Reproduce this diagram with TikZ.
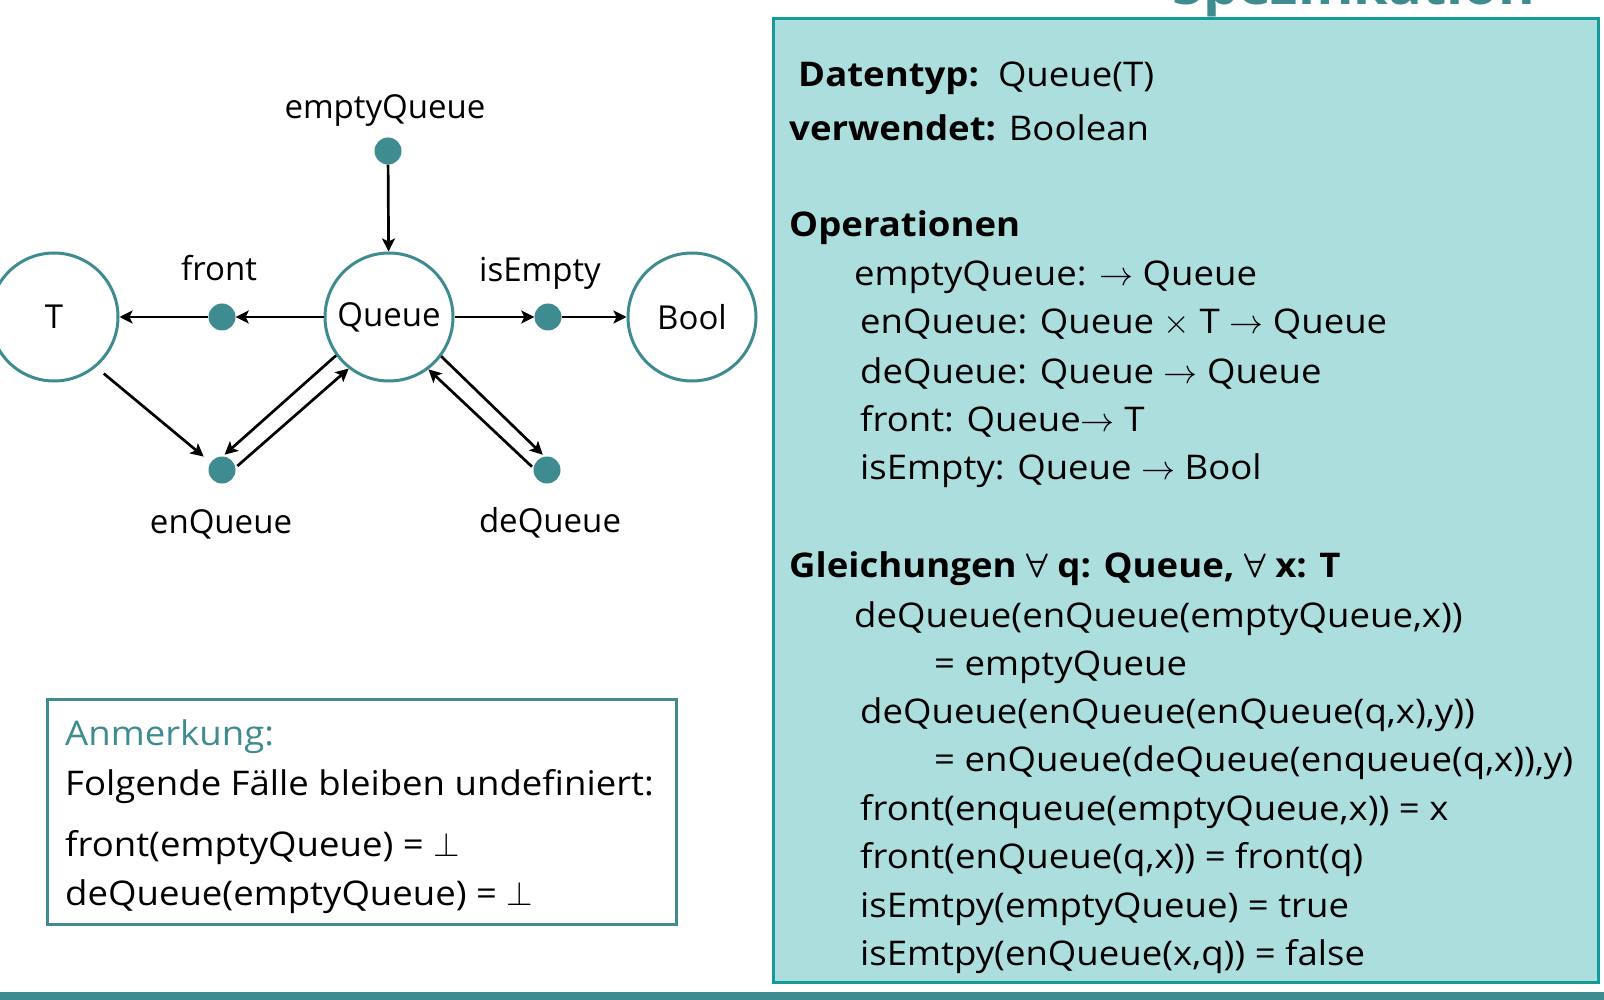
\documentclass[tikz,border=0pt]{standalone}
\usepackage{fontspec}
\setmainfont[FakeStretch=1.075]{Open Sans}
\newfontfamily\lblfont{Open Sans}
\DeclareFontShape{OMS}{cmsy}{m}{n}{<->cmsy10}{}
\DeclareFontShape{OMS}{cmsy}{b}{n}{<->cmbsy10}{}
\usetikzlibrary{arrows.meta}
\definecolor{tealA}{HTML}{3E8C90}
\definecolor{boxfill}{HTML}{ADDEDE}
\definecolor{boxline}{HTML}{139A9A}
\begin{document}
\begin{tikzpicture}[x=1pt,y=-1pt,
  circ/.style={circle, draw=tealA, line width=3pt, fill=white, minimum size=128pt, inner sep=0pt, font=\lblfont\fontsize{33}{40}\selectfont},
  dotnode/.style={circle, fill=tealA, minimum size=27pt, inner sep=0pt},
  lbl/.style={anchor=base, inner sep=0pt, font=\lblfont\fontsize{33}{40}\selectfont},
  txt/.style={anchor=base west, inner sep=0pt, font=\fontsize{34}{40}\selectfont},
  arr/.style={line width=2.7pt, -{Stealth[length=13pt,width=13pt,inset=3pt]}}]
\useasboundingbox (0,0) rectangle (1604,1000);
% title (cut off)
\node[anchor=base west, inner sep=0pt, text=tealA, font=\bfseries\fontsize{52}{52}\selectfont] (title) at (1172,5) {Spezifikation};
% big box
\node[draw=boxline, fill=boxfill, line width=3pt, minimum width=825pt, minimum height=964pt, anchor=north west, inner sep=0pt] (spec) at (772,17) {};
% bottom bar
\fill[tealA] (0,992) rectangle (1604,1000);
% diagram
\node[circ] (T) at (54,317) {T};
\node[circ] (Q) at (389,317) {\raisebox{-3pt}{Queue}};
\node[circ] (B) at (692,317) {Bool};
\node[dotnode] (eq) at (388,151) {};
\node[dotnode] (fr) at (222,317) {};
\node[dotnode] (ie) at (548,317) {};
\node[dotnode] (en) at (222,470) {};
\node[dotnode] (de) at (547,470) {};
\node[lbl] (leq) at (385,119) {emptyQueue};
\node[lbl] (lfr) at (219,281) {front};
\node[lbl] (lie) at (540,282) {isEmpty};
\node[lbl] (len) at (221,533) {enQueue};
\node[lbl] (lde) at (550,532) {deQueue};
\draw[arr] (eq) -- (Q);
\draw[arr] (Q) -- (fr);
\draw[arr] (fr) -- (T);
\draw[arr] (Q) -- (ie);
\draw[arr] (ie) -- (B);
\draw[arr, shorten <=10pt, shorten >=9pt] (T.-50) -- (en.146);
\draw[arr, shorten >=2.5pt] (Q.216) -- (en.87);
\draw[arr, shorten <=2.5pt] (en.10) -- (Q.232);
\draw[arr, shorten >=2.5pt] (Q.323) -- (de.100);
\draw[arr, shorten <=2pt] (de.172) -- (Q.307);
% note box
\node[draw=tealA, line width=2.5pt, minimum width=629pt, minimum height=225pt, anchor=north west, inner sep=0pt] (note) at (46,698) {};
\node[txt, text=tealA] (n1) at (65,745) {Anmerkung:};
\node[txt] (n2) at (65,795) {Folgende Fälle bleiben undefiniert:};
\node[txt] (n3) at (65,856) {front(emptyQueue) = $\perp$};
\node[txt] (n4) at (65,905) {deQueue(emptyQueue) = $\perp$};
% spec text
\node[txt] (s1) at (798,87) {\textbf{Datentyp:}\ \ Queue(T)};
\node[txt] (s2) at (789,141) {\textbf{verwendet:} Boolean};
\node[txt] (s3) at (789,237) {\textbf{Operationen}};
\node[txt] (s4) at (854,286) {emptyQueue: $\rightarrow$ Queue};
\node[txt] (s5) at (860,334) {enQueue: Queue $\times$ T $\rightarrow$ Queue};
\node[txt] (s6) at (860,383) {deQueue: Queue $\rightarrow$ Queue};
\node[txt] (s7) at (860,431) {front: Queue$\rightarrow$ T};
\node[txt] (s8) at (860,479) {isEmpty: Queue $\rightarrow$ Bool};
\node[txt] (s9) at (789,577) {\textbf{Gleichungen {\boldmath$\forall$} q: Queue, {\boldmath$\forall$} x: T}};
\node[txt] (s10) at (854,627) {deQueue(enQueue(emptyQueue,x))};
\node[txt] (s11) at (934,675) {= emptyQueue};
\node[txt] (s12) at (860,723) {deQueue(enQueue(enQueue(q,x),y))};
\node[txt] (s13) at (934,771) {= enQueue(deQueue(enqueue(q,x)),y)};
\node[txt] (s14) at (860,820) {front(enqueue(emptyQueue,x)) = x};
\node[txt] (s15) at (860,868) {front(enQueue(q,x)) = front(q)};
\node[txt] (s16) at (860,917) {isEmtpy(emptyQueue) = true};
\node[txt] (s17) at (860,965) {isEmtpy(enQueue(x,q)) = false};
\end{tikzpicture}
\end{document}
